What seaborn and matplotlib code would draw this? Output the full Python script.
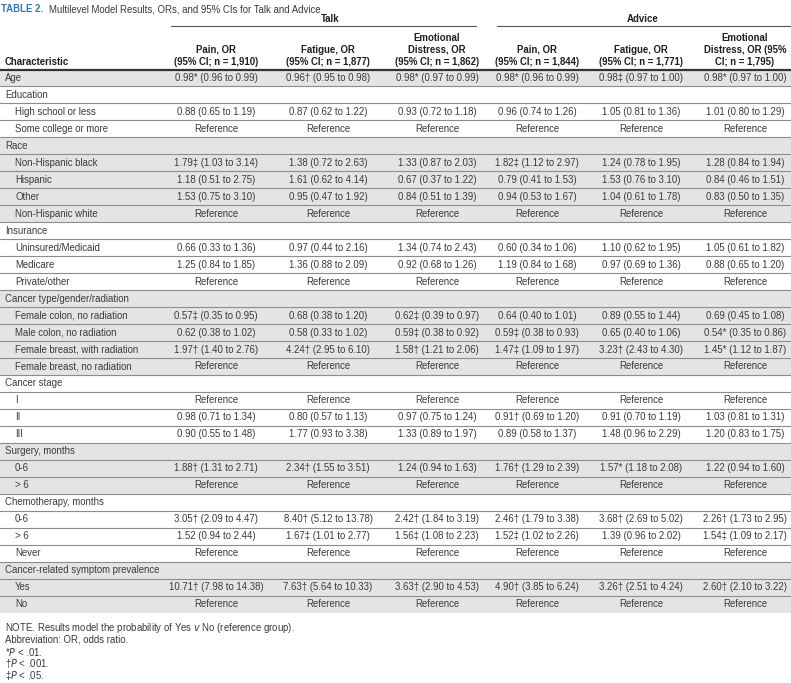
import matplotlib
matplotlib.use("Agg")
import matplotlib.pyplot as plt
import seaborn as sns

# ---- table content ----
row_labels = ['Age', 'Education', 'High school or less', 'Some college or more',
              'Race', 'Non-Hispanic black', 'Hispanic', 'Other', 'Non-Hispanic white',
              'Insurance', 'Uninsured/Medicaid', 'Medicare', 'Private/other',
              'Cancer type/gender/radiation', 'Female colon, no radiation',
              'Male colon, no radiation', 'Female breast, with radiation',
              'Female breast, no radiation', 'Cancer stage', 'I', 'II', 'III',
              'Surgery, months', '0-6', '> 6', 'Chemotherapy, months', '0-6', '> 6',
              'Never', 'Cancer-related symptom prevalence', 'Yes', 'No']
indented = [0, 0, 1, 1, 0, 1, 1, 1, 1, 0, 1, 1, 1, 0, 1, 1, 1, 1, 0, 1, 1, 1,
            0, 1, 1, 0, 1, 1, 1, 0, 1, 1]
group_id = [0, 1, 1, 1, 2, 2, 2, 2, 2, 3, 3, 3, 3, 4, 4, 4, 4, 4, 5, 5, 5, 5,
            6, 6, 6, 7, 7, 7, 7, 8, 8, 8]

R = 'Reference'
talk_pain = ['0.98* (0.96 to 0.99)', '', '0.88 (0.65 to 1.19)', R, '',
             '1.79‡ (1.03 to 3.14)', '1.18 (0.51 to 2.75)', '1.53 (0.75 to 3.10)', R, '',
             '0.66 (0.33 to 1.36)', '1.25 (0.84 to 1.85)', R, '',
             '0.57‡ (0.35 to 0.95)', '0.62 (0.38 to 1.02)', '1.97† (1.40 to 2.76)', R, '',
             R, '0.98 (0.71 to 1.34)', '0.90 (0.55 to 1.48)', '',
             '1.88† (1.31 to 2.71)', R, '',
             '3.05† (2.09 to 4.47)', '1.52 (0.94 to 2.44)', R, '',
             '10.71† (7.98 to 14.38)', R]
talk_fatigue = ['0.96† (0.95 to 0.98)', '', '0.87 (0.62 to 1.22)', R, '',
                '1.38 (0.72 to 2.63)', '1.61 (0.62 to 4.14)', '0.95 (0.47 to 1.92)', R, '',
                '0.97 (0.44 to 2.16)', '1.36 (0.88 to 2.09)', R, '',
                '0.68 (0.38 to 1.20)', '0.58 (0.33 to 1.02)', '4.24† (2.95 to 6.10)', R, '',
                R, '0.80 (0.57 to 1.13)', '1.77 (0.93 to 3.38)', '',
                '2.34† (1.55 to 3.51)', R, '',
                '8.40† (5.12 to 13.78)', '1.67‡ (1.01 to 2.77)', R, '',
                '7.63† (5.64 to 10.33)', R]
talk_distress = ['0.98* (0.97 to 0.99)', '', '0.93 (0.72 to 1.18)', R, '',
                 '1.33 (0.87 to 2.03)', '0.67 (0.37 to 1.22)', '0.84 (0.51 to 1.39)', R, '',
                 '1.34 (0.74 to 2.43)', '0.92 (0.68 to 1.26)', R, '',
                 '0.62‡ (0.39 to 0.97)', '0.59‡ (0.38 to 0.92)', '1.58† (1.21 to 2.06)', R, '',
                 R, '0.97 (0.75 to 1.24)', '1.33 (0.89 to 1.97)', '',
                 '1.24 (0.94 to 1.63)', R, '',
                 '2.42† (1.84 to 3.19)', '1.56‡ (1.08 to 2.23)', R, '',
                 '3.63† (2.90 to 4.53)', R]
advice_pain = ['0.98* (0.96 to 0.99)', '', '0.96 (0.74 to 1.26)', R, '',
               '1.82‡ (1.12 to 2.97)', '0.79 (0.41 to 1.53)', '0.94 (0.53 to 1.67)', R, '',
               '0.60 (0.34 to 1.06)', '1.19 (0.84 to 1.68)', R, '',
               '0.64 (0.40 to 1.01)', '0.59‡ (0.38 to 0.93)', '1.47‡ (1.09 to 1.97)', R, '',
               R, '0.91† (0.69 to 1.20)', '0.89 (0.58 to 1.37)', '',
               '1.76† (1.29 to 2.39)', R, '',
               '2.46† (1.79 to 3.38)', '1.52‡ (1.02 to 2.26)', R, '',
               '4.90† (3.85 to 6.24)', R]
advice_fatigue = ['0.98‡ (0.97 to 1.00)', '', '1.05 (0.81 to 1.36)', R, '',
                  '1.24 (0.78 to 1.95)', '1.53 (0.76 to 3.10)', '1.04 (0.61 to 1.78)', R, '',
                  '1.10 (0.62 to 1.95)', '0.97 (0.69 to 1.36)', R, '',
                  '0.89 (0.55 to 1.44)', '0.65 (0.40 to 1.06)', '3.23† (2.43 to 4.30)', R, '',
                  R, '0.91 (0.70 to 1.19)', '1.48 (0.96 to 2.29)', '',
                  '1.57* (1.18 to 2.08)', R, '',
                  '3.68† (2.69 to 5.02)', '1.39 (0.96 to 2.02)', R, '',
                  '3.26† (2.51 to 4.24)', R]
advice_distress = ['0.98* (0.97 to 1.00)', '', '1.01 (0.80 to 1.29)', R, '',
                   '1.28 (0.84 to 1.94)', '0.84 (0.46 to 1.51)', '0.83 (0.50 to 1.35)', R, '',
                   '1.05 (0.61 to 1.82)', '0.88 (0.65 to 1.20)', R, '',
                   '0.69 (0.45 to 1.08)', '0.54* (0.35 to 0.86)', '1.45* (1.12 to 1.87)', R, '',
                   R, '1.03 (0.81 to 1.31)', '1.20 (0.83 to 1.75)', '',
                   '1.22 (0.94 to 1.60)', R, '',
                   '2.26† (1.73 to 2.95)', '1.54‡ (1.09 to 2.17)', R, '',
                   '2.60† (2.10 to 3.22)', R]

col_headers = [['Pain, OR', '(95% CI; n = 1,910)'],
               ['Fatigue, OR', '(95% CI; n = 1,877)'],
               ['Emotional', 'Distress, OR', '(95% CI; n = 1,862)'],
               ['Pain, OR', '(95% CI; n = 1,844)'],
               ['Fatigue, OR', '(95% CI; n = 1,771)'],
               ['Emotional', 'Distress, OR (95%', 'CI; n = 1,795)']]
columns = [talk_pain, talk_fatigue, talk_distress, advice_pain, advice_fatigue, advice_distress]
footnotes = ['NOTE. Results model the probability of Yes $\\it{v}$ No (reference group).',
             'Abbreviation: OR, odds ratio.',
             '*$\\it{P}$ < .01.', '†$\\it{P}$ < .001.', '‡$\\it{P}$ < .05.']

# ---- style ----
sns.set_theme(style='white')
plt.rcParams['font.family'] = ['Liberation Sans Narrow', 'Liberation Sans', 'DejaVu Sans']
plt.rcParams['mathtext.fontset'] = 'custom'
plt.rcParams['mathtext.it'] = 'Liberation Sans Narrow:italic'
plt.rcParams['mathtext.rm'] = 'Liberation Sans Narrow'

txt = '#3a3a3a'
hdr = '#1e1e1e'
shade = '#e4e4e4'
rule = '#8c8c8c'
fs = 6.9

fig = plt.figure(figsize=(7.91, 6.83), dpi=100)
ax = fig.add_axes([0, 0, 1, 1])
ax.set_xlim(0, 791)
ax.set_ylim(683, 0)
ax.axis('off')

col_x = [216, 328, 437, 537, 641, 745]
row0, row_h = 78.0, 16.97

# title: bold blue label, then the caption right after it
lab = ax.text(1, 9, 'TABLE 2.', color='#2b7bb9', fontsize=6.9, fontweight='bold', va='center')
ax.annotate('Multilevel Model Results, ORs, and 95% CIs for Talk and Advice',
            xy=(1, 0.5), xycoords=lab, xytext=(4, 0), textcoords='offset points',
            color=txt, fontsize=6.9, va='center')

# spanners
ax.text(330, 19, 'Talk', color=hdr, fontsize=fs, fontweight='bold', ha='center', va='center')
ax.text(643, 19, 'Advice', color=hdr, fontsize=fs, fontweight='bold', ha='center', va='center')
ax.plot([171, 476], [25.5, 25.5], color='#555555', lw=0.8)
ax.plot([497, 791], [25.5, 25.5], color='#555555', lw=0.8)

# column headers
ax.text(5, 62, 'Characteristic', color=hdr, fontsize=fs, fontweight='bold', va='center')
for x, lines in zip(col_x, col_headers):
    for k, line in enumerate(reversed(lines)):
        ax.text(x, 62 - 12 * k, line, color=hdr, fontsize=fs, fontweight='bold',
                ha='center', va='center')
ax.plot([0, 791], [70, 70], color='#333333', lw=1.6)

# body rows
n = len(row_labels)
for i in range(n):
    yc = row0 + i * row_h
    top, bot = yc - row_h / 2, yc + row_h / 2
    if group_id[i] % 2 == 0:
        ax.axhspan(top, bot, color=shade, lw=0, zorder=0)
    if i < n - 1:
        ax.plot([0, 791], [bot, bot], color=rule, lw=0.8, zorder=1)
    ax.text(15 if indented[i] else 5, yc, row_labels[i], color=txt, fontsize=fs, va='center')
    for x, col in zip(col_x, columns):
        if col[i]:
            ax.text(x, yc, col[i], color=txt, fontsize=fs, ha='center', va='center')

# footnotes
for k, note in enumerate(footnotes):
    ax.text(5, 628 + 12 * k, note, color=txt, fontsize=fs, va='center')

fig.savefig('out.png', dpi=100)
